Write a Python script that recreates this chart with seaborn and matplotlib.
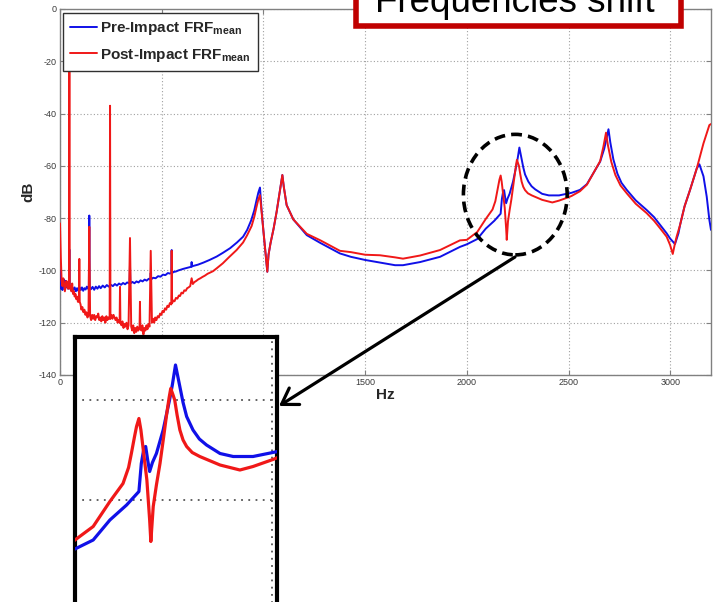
import matplotlib
matplotlib.use("Agg")
import matplotlib.pyplot as plt
import pandas as pd
import seaborn as sns
from matplotlib.patches import Ellipse, Rectangle, FancyArrowPatch
from matplotlib.lines import Line2D

# ---------------------------------------------------------------- data
# Mean frequency response before the impact (frequency in Hz, magnitude in dB)
pre_hz = [0, 4, 8, 12, 16, 20, 24, 28, 32, 36, 40, 44, 46, 48, 54, 60, 66, 72, 78, 84,
          90, 96, 102, 108, 114, 120, 126, 132, 138, 142, 144, 146, 152, 160, 168, 176,
          184, 192, 200, 210, 220, 230, 240, 250, 260, 270, 280, 290, 300, 310, 320, 330,
          342, 344, 346, 356, 366, 376, 386, 396, 406, 416, 426, 436, 444, 446, 448, 458,
          470, 482, 494, 506, 518, 530, 540, 547, 549, 551, 558, 570, 582, 606, 630, 645,
          647, 649, 654, 678, 705, 735, 770, 800, 836, 870, 900, 920, 940, 955, 965, 975,
          983, 990, 1000, 1010, 1019, 1025, 1035, 1050, 1065, 1080, 1088, 1093, 1100, 1114,
          1147, 1213, 1280, 1376, 1430, 1500, 1573, 1647, 1686, 1770, 1868, 1966, 2000,
          2051, 2093, 2135, 2166, 2172, 2179, 2183, 2188, 2193, 2200, 2210, 2227, 2243,
          2250, 2255, 2258, 2263, 2269, 2277, 2286, 2302, 2318, 2336, 2370, 2403, 2453,
          2503, 2515, 2556, 2590, 2622, 2655, 2675, 2688, 2696, 2705, 2720, 2740, 2760,
          2786, 2830, 2884, 2920, 2950, 2982, 2999, 3023, 3040, 3048, 3070, 3097, 3130,
          3143, 3163, 3179, 3192, 3200]
pre_db = [-100, -107, -104, -107.5, -105, -103.5, -106, -104, -106.5, -105.5, -107, -106, -92,
          -106, -107.5, -106.5, -107.5, -106.5, -108, -106.8, -107.8, -106.5, -107.5, -106.5,
          -107.8, -106.8, -107.3, -106.2, -107, -106.5, -79, -106.5, -107.2, -106.3, -107.4,
          -106.2, -107, -106, -106.8, -105.8, -106.5, -105.6, -106.2, -105.5, -106, -105.2,
          -105.8, -105, -105.5, -104.8, -105.3, -104.6, -105, -98, -105, -104.4, -104.9,
          -104.2, -104.6, -103.8, -104.2, -103.5, -103.9, -103.2, -103.5, -101, -103.4, -102.8,
          -103, -102.2, -102.4, -101.6, -101.8, -101, -101.2, -101, -92.2, -101, -100.6,
          -100.4, -100, -99.4, -98.9, -98.6, -96.8, -98.5, -98.3, -97.8, -97, -96, -94.7,
          -93.3, -91.5, -89.3, -87.1, -84.5, -80.8, -77, -73.5, -70.2, -68.3, -76, -85, -93,
          -100.5, -94, -89.5, -84, -77.5, -70, -66, -63.5, -68, -75, -80.5, -86.5, -89.5,
          -93.5, -94.8, -96, -97, -98, -98, -96.8, -94.8, -91, -90,
          -88, -84, -81, -78.3, -72.7, -69.5, -69.3, -72, -74.3, -72.5, -70.7, -66, -60,
          -57, -54.5, -53, -55, -57.3, -60.5, -63.3, -66, -67.8, -69, -70.7, -71.3, -71.3,
          -70.5, -70.3, -69.2, -67, -62.8, -58.4, -53.5, -49, -46, -51, -57.5, -63, -66.5,
          -69.2, -73.2, -76.9, -79.6, -82.6, -85.8, -87.8, -89.9, -85.8, -82.6, -75.5, -69.2,
          -61, -59.4, -64, -71.8, -80.7, -84.5]

# Mean frequency response after the impact
post_hz = [0, 4, 8, 12, 16, 20, 24, 28, 32, 36, 40, 44, 46, 48, 52, 56, 60, 64, 68, 72, 76,
           80, 84, 88, 93, 95, 97, 101, 105, 110, 115, 120, 125, 130, 135, 140, 144, 148,
           153, 158, 163, 168, 173, 178, 183, 188, 193, 198, 203, 208, 213, 218, 223, 228,
           233, 238, 244, 246, 248, 253, 258, 263, 268, 273, 278, 283, 288, 293, 295, 297,
           302, 307, 312, 317, 322, 327, 332, 337, 344, 350, 355, 360, 365, 370, 375, 380,
           385, 391, 393, 395, 400, 405, 410, 415, 420, 425, 430, 435, 440, 446, 452, 458,
           463, 468, 474, 480, 486, 492, 498, 504, 510, 516, 522, 528, 534, 540, 547, 549,
           551, 557, 563, 570, 577, 584, 590, 597, 604, 611, 618, 625, 632, 640, 647, 653,
           660, 670, 680, 690, 700, 712, 725, 738, 752, 770, 800, 830, 868, 900, 920, 942,
           955, 965, 975, 983, 990, 1000, 1010, 1019, 1025, 1035, 1050, 1065, 1080, 1088,
           1093, 1100, 1114, 1147, 1213, 1280, 1376, 1430, 1500, 1573, 1647, 1686, 1770,
           1868, 1966, 2000, 2051, 2093, 2126, 2140, 2147, 2155, 2160, 2166, 2171, 2176,
           2186, 2193, 2196, 2202, 2210, 2219, 2228, 2236, 2242, 2246, 2251, 2256, 2262,
           2269, 2277, 2286, 2300, 2319, 2370, 2420, 2453, 2503, 2515, 2556, 2590, 2622,
           2655, 2671, 2684, 2693, 2710, 2730, 2755, 2786, 2830, 2884, 2920, 2950, 2982,
           2999, 3012, 3022, 3031, 3048, 3070, 3097, 3130, 3163, 3192, 3200]
post_db = [-82, -95, -104, -106, -103, -105, -108, -106, -104, -106, -107, -106, -10, -107,
           -106, -108, -105, -109, -108, -110, -109, -111, -110, -112, -112, -95.6, -112,
           -113, -115, -114, -116, -115, -117, -116, -118, -117, -83.3, -117.5, -119, -117,
           -118.5, -117, -119, -117.5, -118, -116.5, -119, -118, -119.5, -117.5, -119, -118,
           -120, -117.5, -119, -118, -118.5, -37, -118.5, -117, -118.5, -117, -118, -119,
           -118, -120, -119, -120, -106.3, -120, -121, -119.5, -122, -120.5, -121.5, -120,
           -122.5, -121, -87.6, -121.5, -123, -121, -124, -122, -123.5, -121.5, -123, -122,
           -112, -122, -123, -121, -124.5, -122, -123, -121, -122.5, -120.5, -121.5, -92.5,
           -120, -118.5, -120, -118, -119, -117.5, -118, -116.5, -117, -115.5, -116, -114.5,
           -115, -113.5, -114, -112.5, -113, -92.5, -112.5, -111.5, -111.8, -110.5, -110.8,
           -109.6, -109.8, -108.5, -108.8, -107.6, -107.8, -106.8, -106.5, -106, -103, -105.2,
           -104.5, -104, -103.4, -103, -102.5, -102, -101.3, -100.8, -100.3, -99.2, -97.3,
           -95, -92.2, -89.3, -86.5, -83, -79.5, -76, -72.8, -71.2, -77, -85, -93, -100.5,
           -94, -89.5, -84, -77.5, -70, -66, -63.5, -68, -75, -80.5, -86, -88.5, -92.5, -93,
           -94, -94.2, -95, -95.5, -94.3, -92.2, -88.5, -88.3, -85.3, -80.3, -76.7, -73.5,
           -70.7, -67.3, -65.3, -63.7, -66, -69.3, -76, -84, -88.3, -81.3, -77, -72.7, -67.5,
           -62.7, -59.5, -57.7, -58.8, -60, -63, -66, -68, -69.3, -70.5, -71.3, -73, -74,
           -73.3, -71.9, -71.5, -69.7, -67.2, -62.8, -58.2, -52.7, -47.3, -52, -58.5, -63.5,
           -67.5, -70.5, -74.5, -78.1, -81, -83.9, -87.1, -90.3, -93.7, -90, -87.1, -82.6,
           -75.5, -69.2, -61, -51.4, -44.4, -44]

x_ticks = [0, 500, 1000, 1500, 2000, 2500, 3000]
y_ticks = [-140, -120, -100, -80, -60, -40, -20, 0]
inset_y_ticks = [-80, -60]
series_labels = [r"Pre-Impact FRF$_{\mathbf{mean}}$", r"Post-Impact FRF$_{\mathbf{mean}}$"]
callout_text = "Frequencies shift"

BLUE = "#1010e8"
RED = "#f01818"

# ---------------------------------------------------------------- style
sns.set_style("white")
plt.rcParams["font.family"] = ["Liberation Sans", "DejaVu Sans"]
plt.rcParams["mathtext.fontset"] = "custom"
plt.rcParams["mathtext.rm"] = "Liberation Sans"
plt.rcParams["mathtext.bf"] = "Liberation Sans:bold"
plt.rcParams["axes.unicode_minus"] = False

W, H = 716, 602
fig = plt.figure(figsize=(W / 100, H / 100), dpi=100)
fig.patch.set_facecolor("white")

pre = pd.DataFrame({"Hz": pre_hz, "dB": pre_db})
post = pd.DataFrame({"Hz": post_hz, "dB": post_db})

# ---------------------------------------------------------------- main axes
ax = fig.add_axes([60 / W, 1 - 375 / H, 651 / W, 366 / H])
sns.lineplot(data=pre, x="Hz", y="dB", color=BLUE, lw=1.4, estimator=None,
             sort=False, ax=ax, zorder=3)
sns.lineplot(data=post, x="Hz", y="dB", color=RED, lw=1.4, estimator=None,
             sort=False, ax=ax, zorder=4)

ax.set_xticks(x_ticks)
ax.set_yticks(y_ticks)
ax.set_xlim(0, 3200)
ax.set_ylim(-140, 0)
ax.grid(True, linestyle=(0, (1, 2)), color="#a0a0a0", lw=0.8)
ax.tick_params(direction="in", length=3.5, width=0.8, color="#808080",
               labelcolor="#3a3a3a", labelsize=6.5, pad=2.5,
               top=True, right=True, bottom=True, left=True)
for s in ax.spines.values():
    s.set_color("#808080")
    s.set_linewidth(1.0)

ax.set_xlabel("Hz", fontsize=11, fontweight="bold")
ax.xaxis.set_label_coords(0.499, -0.036)
ax.set_ylabel("dB", fontsize=11, fontweight="bold")
ax.yaxis.set_label_coords(-0.038, 0.5)

handles = [Line2D([], [], color=BLUE, lw=1.4), Line2D([], [], color=RED, lw=1.4)]
leg = ax.legend(handles, series_labels, loc="upper left",
                bbox_to_anchor=(3 / 651, 1 - 4 / 366), borderaxespad=0,
                frameon=True, fancybox=False, framealpha=1, edgecolor="#303030",
                prop={"weight": "bold", "size": 11}, handlelength=1.75,
                handletextpad=0.2, labelspacing=0.62, borderpad=0.47)
leg.get_frame().set_linewidth(1.0)
leg.set_zorder(10)

# dashed circle around the shifted peaks
ax.add_patch(Ellipse((2238, -71.0), 510, 46.1, fill=False, ec="black", lw=2.6,
                     ls=(0, (3, 1.7)), zorder=6, clip_on=False))

# ---------------------------------------------------------------- zoomed inset
axin = fig.add_axes([74.5 / W, 1 - 615 / H, 202 / W, 278.5 / H])
sns.lineplot(data=pre, x="Hz", y="dB", color=BLUE, lw=2.3, estimator=None,
             sort=False, ax=axin, zorder=3)
sns.lineplot(data=post, x="Hz", y="dB", color=RED, lw=2.3, estimator=None,
             sort=False, ax=axin, zorder=4)
axin.set_xticks(x_ticks)
axin.set_yticks(inset_y_ticks)
axin.set_xlim(2004, 2512)
axin.set_ylim(-103, -47.3)
axin.grid(True, linestyle=(0, (1, 3)), color="#555555", lw=1.3)
axin.tick_params(left=False, bottom=False, labelleft=False, labelbottom=False)
axin.set_xlabel("")
axin.set_ylabel("")
for s in axin.spines.values():
    s.set_color("black")
    s.set_linewidth(3.0)

# arrow from the circle to the inset
fig.add_artist(FancyArrowPatch((515 / W, 1 - 257 / H), (279 / W, 1 - 406 / H),
                               transform=fig.transFigure,
                               arrowstyle="->,head_length=0.55,head_width=0.35",
                               mutation_scale=20, lw=2.3, color="black",
                               shrinkA=0, shrinkB=0, zorder=20))

# ---------------------------------------------------------------- callout box
fig.add_artist(Rectangle((355.5 / W, 1 - 25.5 / H), 325 / W, 60 / H,
                         transform=fig.transFigure, fc="white", ec="#c00000",
                         lw=4.0, zorder=20))
fig.text(515 / W, 1 - 12.5 / H, callout_text, ha="center", va="baseline",
         fontsize=26.5, color="black", zorder=21)

fig.savefig("out.png", dpi=100)
